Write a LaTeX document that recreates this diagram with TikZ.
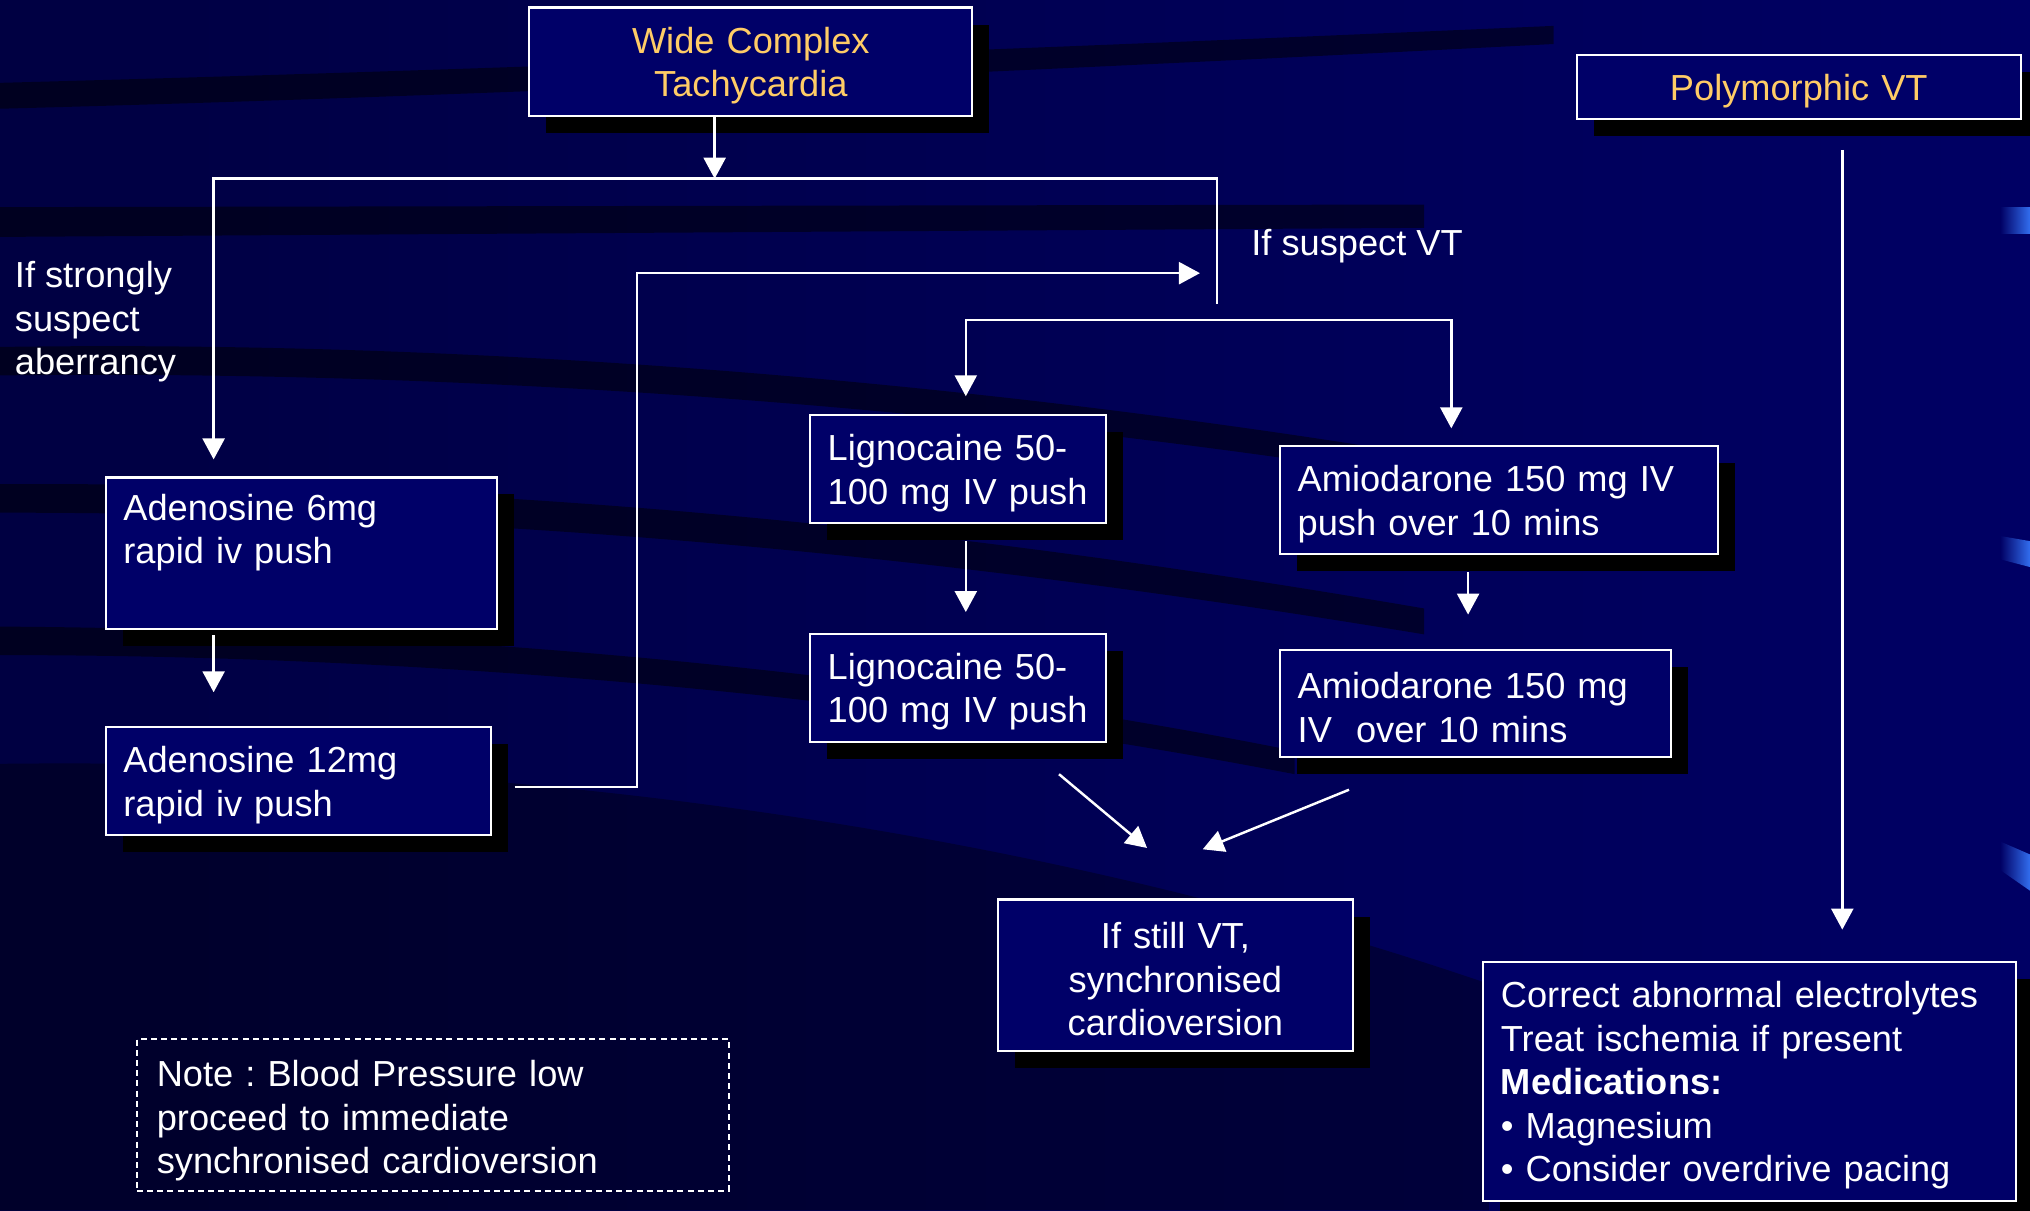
\documentclass[tikz,border=0pt]{standalone}
\usepackage{fontspec}
\setmainfont{Liberation Sans}
\usepackage{tikz}
\usetikzlibrary{positioning, arrows.meta, calc, shadows}
\definecolor{slide_bg}{RGB}{0, 0, 100}
\definecolor{slide_dark}{RGB}{0, 0, 66}
\definecolor{box_fill}{RGB}{0, 0, 104}
\definecolor{title_gold}{RGB}{255, 204, 102}
\definecolor{edge_blue}{RGB}{50, 110, 240}
\frenchspacing

\begin{document}
\begin{tikzpicture}[x=0.012946cm, y=-0.012946cm,
      >={Triangle[width=2.2mm, length=2.1mm]},
      font=\fontsize{10.3}{12.35}\selectfont,
      stepbox/.style={draw=white, fill=box_fill, text=white, line width=0.6pt,
        anchor=north west, inner xsep=0.175cm, inner ysep=0pt, align=left,
        execute at begin node={\rule{0pt}{9.7pt}},
        general shadow={fill=black, shadow xshift=0.17cm, shadow yshift=-0.17cm}},
      titlebox/.style={stepbox, text=title_gold, align=center},
      midbox/.style={stepbox, align=center},
      notebox/.style={draw=white, line width=0.5pt, dash pattern=on 1.7pt off 1.2pt,
        text=white, anchor=north west, inner xsep=0.2cm, inner ysep=0pt, align=left,
        execute at begin node={\rule{0pt}{10.8pt}}},
      side/.style={text=white, anchor=west, inner sep=0pt, align=left},
      wire/.style={draw=white, line width=0.7pt},
      arr/.style={wire, ->},
      swoosh/.style={fill=black, opacity=0.5, draw=none}]

    %% ---- slide background -----------------------------------------------
    \useasboundingbox (0,0) rectangle (1568,935);
    \shade[left color=slide_dark, middle color=slide_bg, right color=slide_bg]
      (0,0) rectangle (1568,935);
    \fill[swoosh] (0,64) .. controls (300,56) and (700,42) .. (1200,20)
      -- (1200,34) .. controls (700,60) and (300,76) .. (0,84) -- cycle;
    \fill[swoosh] (0,160) -- (1100,158) -- (1100,176) -- (0,183) -- cycle;
    \fill[swoosh] (0,268) .. controls (400,262) and (800,300) .. (1150,360)
      -- (1150,378) .. controls (800,320) and (400,285) .. (0,290) -- cycle;
    \fill[swoosh] (0,374) .. controls (400,372) and (750,410) .. (1100,470)
      -- (1100,490) .. controls (750,432) and (400,396) .. (0,396) -- cycle;
    \fill[swoosh] (0,484) .. controls (350,486) and (700,520) .. (1000,580)
      -- (1000,598) .. controls (700,540) and (350,506) .. (0,506) -- cycle;
    \fill[swoosh, opacity=0.35] (0,590) .. controls (400,585) and (800,640) .. (1150,760)
      -- (1150,935) -- (0,935) -- cycle;
    \shade[left color=slide_bg, right color=edge_blue]
      (1545,160) -- (1568,160) -- (1568,180) -- (1545,180) -- cycle;
    \shade[left color=slide_bg, right color=edge_blue]
      (1545,414) -- (1568,418) -- (1568,438) -- (1545,432) -- cycle;
    \shade[left color=slide_bg, right color=edge_blue]
      (1545,650) -- (1568,660) -- (1568,688) -- (1545,672) -- cycle;

    %% ---- boxes ---------------------------------------------------------
    \node[titlebox, text width=4.078cm, minimum height=1.087cm] (wct) at (408,5)
      {Wide Complex\\Tachycardia};
    \node[titlebox, text width=4.09cm, minimum height=0.634cm] (poly) at (1217,42)
      {Polymorphic VT};

    \node[stepbox, text width=3.56cm, minimum height=1.515cm] (ad6) at (81,368)
      {Adenosine 6mg\\rapid iv push\\\strut};
    \node[stepbox, text width=3.495cm, minimum height=1.075cm] (ad12) at (81,561)
      {Adenosine 12mg\\rapid iv push};

    \node[stepbox, text width=2.61cm, minimum height=1.075cm] (lig1) at (625,320)
      {Lignocaine 50-\\100 mg IV push};
    \node[stepbox, text width=2.61cm, minimum height=1.075cm] (lig2) at (625,489)
      {Lignocaine 50-\\100 mg IV push};

    \node[stepbox, text width=4.026cm, minimum height=1.075cm] (amio1) at (988,344)
      {Amiodarone 150 mg IV\\push over 10 mins};
    \node[stepbox, text width=3.56cm, minimum height=1.075cm] (amio2) at (988,501)
      {Amiodarone 150 mg\\IV\ \ over 10 mins};

    \node[midbox, text width=3.197cm, minimum height=1.515cm] (still) at (770,694)
      {If still VT,\\synchronised\\cardioversion};

    \node[stepbox, text width=4.97cm, minimum height=2.395cm] (corr) at (1145,742)
      {Correct abnormal electrolytes\\Treat ischemia if present\\
       \textbf{Medications:}\\\textbullet\ Magnesium\\\textbullet\ Consider overdrive pacing};

    \node[notebox, text width=5.516cm, minimum height=1.515cm] (note) at (105,802)
      {Note : Blood Pressure low\\proceed to immediate\\synchronised cardioversion};

    %% ---- side labels ---------------------------------------------------
    \node[side] (aberr) at (11,248.5) {If strongly\\suspect\\aberrancy};
    \node[side] (susvt) at (966,190) {If suspect VT};

    %% ---- connectors ----------------------------------------------------
    \coordinate (topbar) at (552,138);
    \coordinate (barL) at (165,138);
    \coordinate (barR) at (940,138);
    \coordinate (vtEnd) at (940,235);
    \coordinate (loopA) at (492,608);
    \coordinate (loopB) at (492,211);
    \coordinate (splitL) at (746,247);
    \coordinate (splitR) at (1121,247);
    \coordinate (ligOut) at (818,598);
    \coordinate (svInL) at (886,655);
    \coordinate (amiOut) at (1042,610);
    \coordinate (svInR) at (929,656);
    \coordinate (polyX) at (1423,114);

    \draw[arr] (wct.south -| topbar) -- (topbar);
    \draw[arr, shorten >=0.17cm] (vtEnd) -- (barR) -- (barL) -- (barL |- ad6.north);
    \draw[arr, shorten <=0.05cm, shorten >=0.34cm] (ad6.south -| barL) -- (ad12.north -| barL);
    \draw[arr, shorten <=0.23cm, shorten >=0.17cm]
      (ad12.east |- loopA) -- (loopA) -- (loopB) -- (loopB -| barR);

    \draw[arr, shorten >=0.18cm] (splitR) -- (splitL) -- (splitL |- lig1.north);
    \draw[arr, shorten >=0.17cm] (splitL) -- (splitR) -- (splitR |- amio1.north);
    \draw[arr, shorten <=0.17cm, shorten >=0.21cm] (lig1.south -| splitL) -- (lig2.north -| splitL);
    \draw[arr, shorten <=0.17cm, shorten >=0.34cm]
      ([xshift=-0.31cm]amio1.south) -- ([xshift=-0.31cm]amio1.south |- amio2.north);

    \draw[arr] (ligOut) -- (svInL);
    \draw[arr] (amiOut) -- (svInR);

    \draw[arr, shorten <=0.3cm, shorten >=0.31cm] (poly.south -| polyX) -- (polyX |- corr.north);
  \end{tikzpicture}
\end{document}
